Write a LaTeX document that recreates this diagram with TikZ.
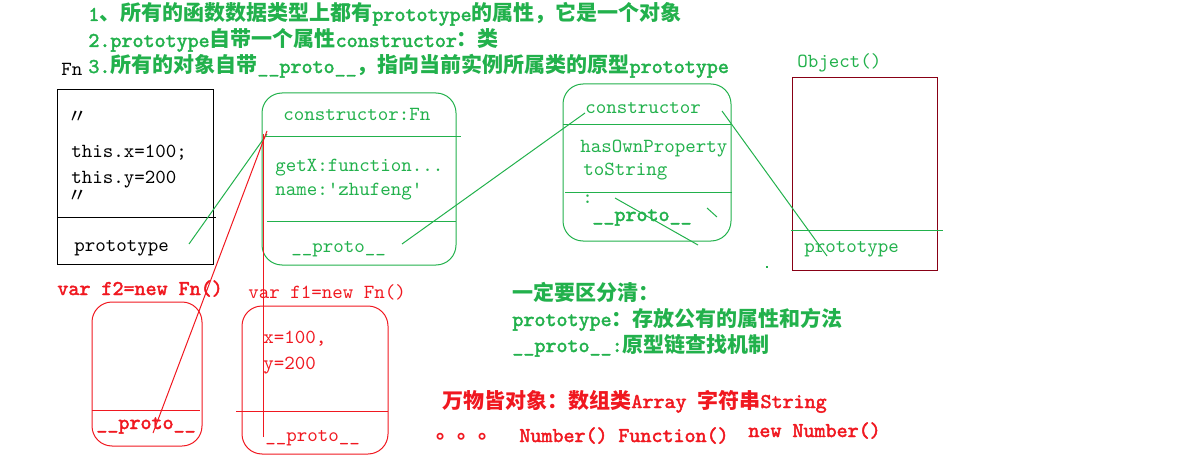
\documentclass[tikz,border=0pt]{standalone}
\usepackage{fontspec}
\setmonofont[BoldFont={Latin Modern Mono}, BoldFeatures={FakeBold=2.2}]{Latin Modern Mono}
\newfontfamily\cjk{Noto Sans CJK SC}
\newcommand{\zh}[1]{{\cjk #1}}
\definecolor{gr}{RGB}{34,177,76}
\definecolor{rd}{RGB}{240,24,32}
\definecolor{dr}{RGB}{136,0,21}
\tikzset{
  txt/.style={inner sep=0pt, anchor=west, font=\fontsize{10pt}{12pt}\selectfont\ttfamily, text height=7pt, text depth=2pt},
  hd/.style={txt, font=\fontsize{10.5pt}{12pt}\selectfont\ttfamily\bfseries},
  ln/.style={line width=0.5pt},
  rbox/.style={ln, rounded corners=10pt}
}
\begin{document}
\begin{tikzpicture}[x=0.5pt,y=-0.5pt]
\useasboundingbox (0,0) rectangle (1200,460);

% header
\node[hd, gr] (h1) at (88,16) {1\zh{、所有的函数数据类型上都有}prototype\zh{的属性，它是一个对象}};
\node[hd, gr] (h2) at (88,42) {2.prototype\zh{自带一个属性}constructor\zh{：类}};
\node[hd, gr] (h3) at (88,68) {3.\zh{所有的对象自带}\_\_proto\_\_\zh{，指向当前实例所属类的原型}prototype};

% Fn box
\node[txt] (fnl) at (61,71) {Fn};
\draw[ln] (57,90) rectangle (213,264);
\draw[ln] (57,217) -- (216,217);
\node[txt] (q1) at (67,119) {\zh{〃}};
\node[txt] (tx) at (71,153) {this.x=100;};
\node[txt] (ty) at (71,179) {this.y=200};
\node[txt] (q2) at (67,198) {\zh{〃}};
\node[txt] (fp) at (74,246) {prototype};

% Fn prototype box
\draw[rbox, gr] (262,93) rectangle (456,265);
\draw[ln, gr] (266,137) -- (461,137);
\draw[ln, gr] (267,221) -- (456,221);
\node[txt, gr] (cf) at (283,116) {constructor:Fn};
\node[txt, gr] (gx) at (275,166) {getX:function...};
\node[txt, gr] (nm) at (275,191) {name:'zhufeng'};
\node[txt, gr] (pp1) at (291,247) {\_\_proto\_\_};

% Object prototype box
\draw[rbox, gr] (563,84) rectangle (731,241);
\draw[ln, gr] (563,125) -- (731,125);
\draw[ln, gr] (565,193) -- (732,193);
\node[txt, gr] (oc) at (585,109) {constructor};
\node[txt, gr] (oh) at (580,148) {hasOwnProperty};
\node[txt, gr] (ot) at (583,171) {toString};
\node[txt, gr] (od) at (582,199) {:};
\node[txt, gr, font=\fontsize{10.5pt}{12pt}\selectfont\ttfamily\bfseries] (pp2) at (592,216) {\_\_proto\_\_};

% Object()
\node[txt, gr] (obl) at (797,63) {Object()};
\draw[ln, dr] (792,78) rectangle (937,270);
\draw[ln, gr] (791,230) -- (943,230);
\node[txt, gr] (opr) at (804,247) {prototype};

% instances
\node[hd, rd] (v2) at (57,290) {var f2=new Fn()};
\draw[rbox, rd] (92,302) rectangle (202,446);
\draw[ln, rd] (92,410) -- (200,410);
\node[hd, rd] (f2p) at (96,424) {\_\_proto\_\_};

\node[txt, rd] (v1) at (248,293) {var f1=new Fn()};
\draw[rbox, rd] (242,306) rectangle (388,454);
\draw[ln, rd] (236,411) -- (388,411);
\node[txt, rd] (fx) at (263,338) {x=100,};
\node[txt, rd] (fy) at (263,364) {y=200};
\node[txt, rd] (f1p) at (265,436) {\_\_proto\_\_};

% notes
\node[hd, gr] (n1) at (512,295) {\zh{一定要区分清：}};
\node[hd, gr] (n2) at (512,321) {prototype\zh{：存放公有的属性和方法}};
\node[hd, gr] (n3) at (512,347) {\_\_proto\_\_:\zh{原型链查找机制}};
\node[hd, rd] (r1) at (442,403) {\zh{万物皆对象：数组类}Array \zh{字符串}String};
\node[hd, rd] (r2) at (436,433) {\zh{。。。}};
\node[hd, rd] (r3) at (519,437) {Number()};
\node[hd, rd] (r4) at (618,437) {Function()};
\node[hd, rd] (r5) at (748,432) {new Number()};

% connector end points
\coordinate (a1) at (189,244);
\coordinate (a2) at (267,134);
\coordinate (b1) at (402,244);
\coordinate (b2) at (585,113);
\coordinate (c1) at (722,111);
\coordinate (c2) at (827,256);
\coordinate (d1) at (615,198);
\coordinate (d2) at (698,245);
\coordinate (e1) at (707,208);
\coordinate (e2) at (717,217);
\coordinate (f1) at (153,433);
\coordinate (f2) at (267,131);
\coordinate (g1) at (263,437);
\coordinate (g2) at (263,134);

\draw[ln, gr] (a1) -- (a2);
\draw[ln, gr] (b1) -- (b2);
\draw[ln, gr] (c1) -- (c2);
\draw[ln, gr] (d1) -- (d2);
\draw[ln, gr] (e1) -- (e2);
\draw[ln, rd] (f1) -- (f2);
\draw[ln, rd] (g1) -- (g2);
\fill[gr] (766,266) rectangle (768,268);
\end{tikzpicture}
\end{document}
